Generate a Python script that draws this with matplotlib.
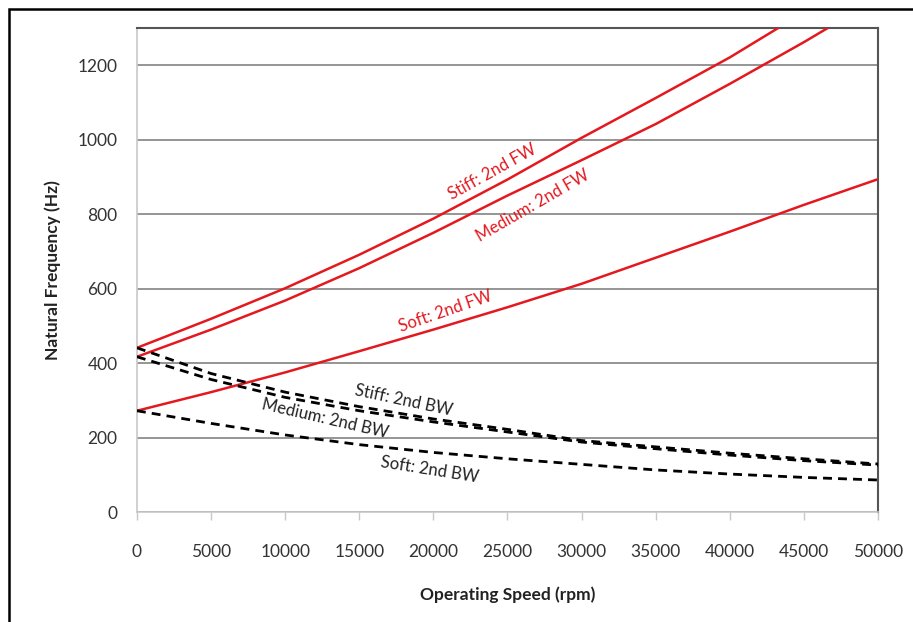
import numpy as np
import matplotlib
matplotlib.use("Agg")
import matplotlib.pyplot as plt
from matplotlib.patches import Rectangle

plt.rcParams["font.family"] = ["Lato", "DejaVu Sans"]

# operating speed (rpm)
speed = [0, 5000, 10000, 15000, 20000, 25000, 30000, 35000, 40000, 45000, 50000]

# forward whirl, 2nd mode (Hz)
stiff_fw = [441, 519, 601, 691, 788, 893, 1005, 1112, 1221, 1342, 1460]
medium_fw = [417, 490, 568, 655, 750, 850, 945, 1042, 1150, 1262, 1380]
soft_fw = [272, 322, 375, 432, 490, 550, 613, 683, 753, 825, 894]

# backward whirl, 2nd mode (Hz)
stiff_bw = [441, 372, 322, 283, 250, 222, 192, 175, 158, 143, 129]
medium_bw = [417, 356, 308, 272, 242, 215, 188, 170, 153, 138, 126]
soft_bw = [272, 238, 207, 181, 160, 143, 128, 113, 102, 93, 86]

# curve labels: text, x, y, rotation, colour
red = "#e3191f"
labels = [
    ("Stiff: 2nd FW", 23960, 913, 29, red),
    ("Medium: 2nd FW", 26730, 822, 30, red),
    ("Soft: 2nd FW", 20790, 540, 19, red),
    ("Stiff: 2nd BW", 17960, 301, -12, "#222222"),
    ("Medium: 2nd BW", 12690, 252, -13, "#222222"),
    ("Soft: 2nd BW", 19780, 113, -9, "#222222"),
]

fig = plt.figure(figsize=(9.13, 6.22), dpi=100)
ax = fig.add_axes([0.150, 0.1768, 0.8117, 0.7782])

for fw in (stiff_fw, medium_fw, soft_fw):
    ax.plot(speed, fw, color=red, lw=1.8, zorder=3)
for bw in (stiff_bw, medium_bw, soft_bw):
    ax.plot(speed, bw, color="black", lw=2.0, dashes=(3.2, 2.2), zorder=3)

for text, x, y, rot, c in labels:
    ax.text(x, y, text, rotation=rot, color=c, fontsize=12,
            ha="center", va="center", rotation_mode="anchor", zorder=4)

ax.set_xlim(0, 50000)
ax.set_ylim(0, 1300)
ax.set_xticks(np.arange(0, 50001, 5000))
ax.set_yticks(np.arange(0, 1201, 200))
ax.yaxis.grid(True, color="#8c8c8c", lw=1.3)
ax.set_axisbelow(True)

ax.tick_params(axis="x", length=6, width=1, color="#c8c8c8", pad=17,
               labelsize=12.5, labelcolor="#333333")
ax.tick_params(axis="y", length=0, pad=14, labelsize=12.5, labelcolor="#333333")

ax.spines["left"].set_color("#c8c8c8")
ax.spines["bottom"].set_color("#c8c8c8")
ax.spines["left"].set_linewidth(1.2)
ax.spines["bottom"].set_linewidth(1.2)
for side in ("top", "right"):
    ax.spines[side].set_color("#555555")
    ax.spines[side].set_linewidth(1.5)

ax.set_xlabel("Operating Speed (rpm)", fontsize=12.5, fontweight="bold",
              color="#222222", labelpad=19)
ax.set_ylabel("Natural Frequency (Hz)", fontsize=12.5, fontweight="bold",
              color="#222222", labelpad=12)

# outer frame
fig.patches.append(Rectangle((9 / 913, -0.05), 1.1, 1 - 8.5 / 622 + 0.05,
                             transform=fig.transFigure, fill=False,
                             edgecolor="black", lw=1.8))

fig.savefig("out.png", dpi=100)
